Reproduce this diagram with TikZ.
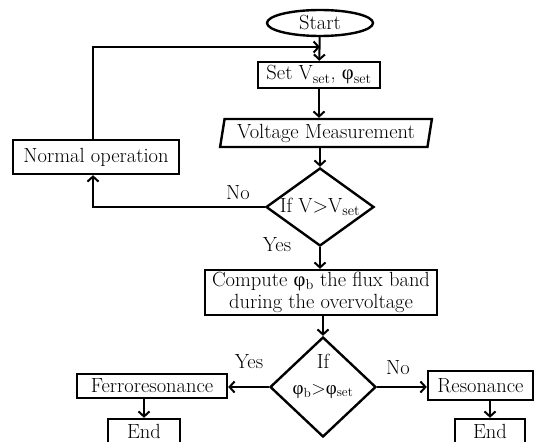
\documentclass[tikz,border=0pt]{standalone}
\usepackage{fontspec}
\newfontfamily\grk{Liberation Serif}
\usetikzlibrary{shapes.geometric,arrows.meta}
\newcommand{\ph}{{\grk φ}}
\begin{document}
\begin{tikzpicture}[x=1pt,y=-1pt,
  font=\fontsize{20.5}{22}\selectfont,
  box/.style={draw, line width=2.4pt, inner sep=0pt, align=center},
  arr/.style={line width=2pt, -{Straight Barb[length=5pt,width=11pt]}},
  lbl/.style={inner sep=0pt}]
\useasboundingbox (0,0) rectangle (545,441);
% nodes
\node[box, ellipse, minimum width=106pt, minimum height=26pt] (start) at (320,23) {Start};
\node[box, minimum width=122pt, minimum height=26pt] (set) at (319,75) {Set V\textsubscript{set}, \ph\textsubscript{set}};
\node[box, trapezium, trapezium left angle=78, trapezium right angle=102, trapezium stretches=true, minimum width=212pt, minimum height=28pt] (meas) at (326,133) {Voltage Measurement};
\node[box, diamond, aspect=1.36, inner sep=-3pt, minimum width=108pt, minimum height=78pt] (d1) at (320,207) {If V>V\textsubscript{set}};
\node[box, minimum width=166pt, minimum height=34pt] (normal) at (96,157) {Normal operation};
\node[box, minimum width=232pt, minimum height=45pt] (comp) at (321,292.5) {Compute \ph\textsubscript{b} the flux band\\during the overvoltage};
\node[box, diamond, minimum width=106pt, minimum height=100pt,
  label={[align=center, inner sep=0pt, yshift=11pt]center:{If\\[4pt]{\fontsize{19}{21}\selectfont\ph\textsubscript{b}>\ph\textsubscript{set}}}}] (d2) at (323,387) {};
\node[box, minimum width=150pt, minimum height=24pt] (ferro) at (152,386) {Ferroresonance};
\node[box, minimum width=105pt, minimum height=29pt] (res) at (480.5,385.5) {Resonance};
\node[box, minimum width=72pt, minimum height=24pt] (end1) at (144,431) {End};
\node[box, minimum width=70pt, minimum height=24pt] (end2) at (490,431) {End};
% labels
\node[lbl] (no1) at (238,193) {No};
\node[lbl] (yes1) at (277,245) {Yes};
\node[lbl] (yes2) at (249,362) {Yes};
\node[lbl] (no2) at (398,368) {No};
% connectors
\coordinate (join) at (320,47);
\draw[arr] (start) -- (set);
\draw[arr] ([xshift=-3pt]normal.north) |- (join);
\draw[arr] (set.south) -- (set.south |- meas.north);
\draw[arr] (meas.south -| d1.north) -- (d1.north);
\draw[arr] (d1.west) -| ([xshift=-3pt]normal.south);
\draw[arr] (d1.south) -- (d1.south |- comp.north);
\draw[arr] (comp.south -| d2.north) -- (d2.north);
\draw[arr] (d2.west) -- (d2.west -| ferro.east);
\draw[arr] (d2.east) -- (d2.east -| res.west);
\draw[arr] (ferro.south -| end1.north) -- (end1.north);
\draw[arr] (res.south -| end2.north) -- (end2.north);
\end{tikzpicture}
\end{document}
